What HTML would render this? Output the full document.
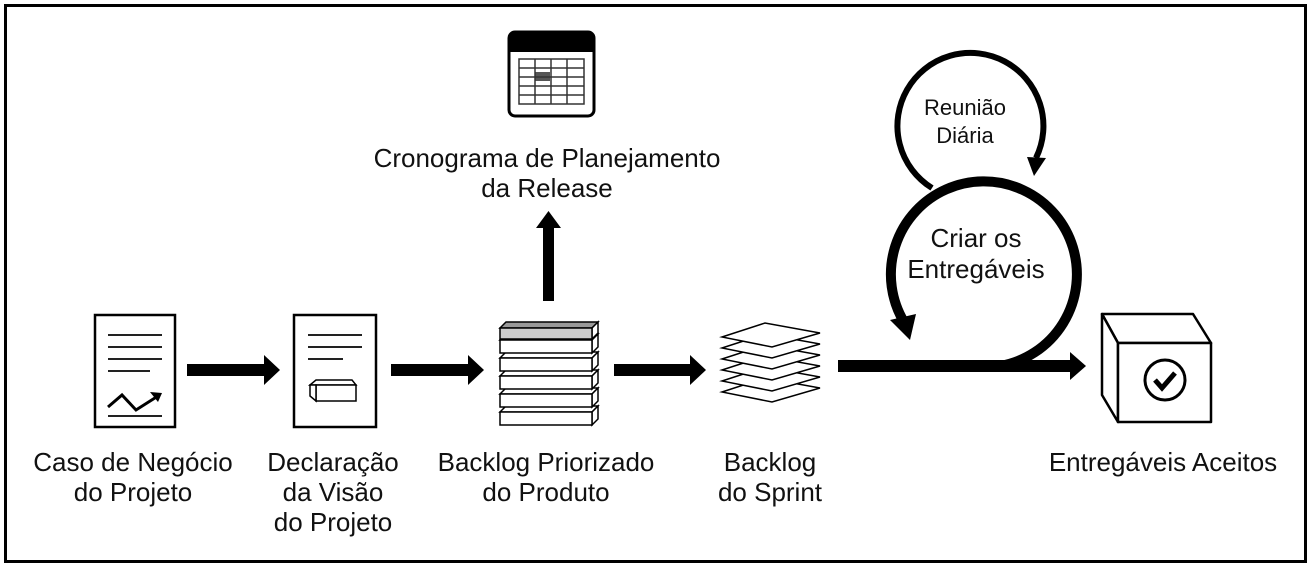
<!DOCTYPE html>
<html><head><meta charset="utf-8"><style>
html,body{margin:0;padding:0;background:#fff;}
svg{display:block;}
text{font-family:"Liberation Sans",Arial,sans-serif;fill:#111;}
</style></head><body>
<svg width="1311" height="567" viewBox="0 0 1311 567" xmlns="http://www.w3.org/2000/svg">
<rect x="5.5" y="5.5" width="1300" height="556" fill="#fff" stroke="#000" stroke-width="3"/>

<!-- Doc 1 -->
<rect x="95" y="315" width="80" height="112" fill="#fff" stroke="#000" stroke-width="2.5"/>
<g stroke="#222" stroke-width="2">
<line x1="108" y1="335" x2="162" y2="335"/><line x1="108" y1="347" x2="162" y2="347"/>
<line x1="108" y1="359" x2="162" y2="359"/><line x1="108" y1="371" x2="150" y2="371"/>
<line x1="108" y1="416" x2="162" y2="416"/>
</g>
<polyline points="108,407 122,395 136,410 158,396" fill="none" stroke="#000" stroke-width="3"/>
<polygon points="162,393 150,392 158,402" fill="#000"/>

<!-- Doc 2 -->
<rect x="294" y="315" width="82" height="112" fill="#fff" stroke="#000" stroke-width="2.5"/>
<g stroke="#222" stroke-width="2">
<line x1="308" y1="335" x2="362" y2="335"/><line x1="308" y1="347" x2="362" y2="347"/>
<line x1="308" y1="359" x2="343" y2="359"/>
</g>
<g fill="#fff" stroke="#000" stroke-width="1.5">
<polygon points="310,385 316,380 352,380 356,385"/>
<rect x="316" y="385" width="40" height="16"/>
<polygon points="310,385 316,385 316,401 310,396"/>
</g>

<!-- Arrows -->
<g fill="#000">
<rect x="187" y="364" width="80" height="12"/><polygon points="264,355 280,370 264,385"/>
<rect x="391" y="364" width="80" height="12"/><polygon points="468,355 484,370 468,385"/>
<rect x="614" y="364" width="80" height="12"/><polygon points="690,355 706,370 690,385"/>
<rect x="543" y="225" width="11" height="76"/><polygon points="536,228 548.5,211 561,228"/>
<rect x="838" y="360" width="236" height="12"/><polygon points="1070,352 1086,366 1070,380"/>
</g>

<!-- Backlog stack -->
<g stroke="#000" stroke-width="1.5">
<g fill="#fff">
<polygon points="500,412 506,406 598,406 592,412"/><polygon points="592,412 598,406 598,419 592,425"/><rect x="500" y="412" width="92" height="13"/>
<polygon points="500,394 506,388 598,388 592,394"/><polygon points="592,394 598,388 598,401 592,407"/><rect x="500" y="394" width="92" height="13"/>
<polygon points="500,376 506,370 598,370 592,376"/><polygon points="592,376 598,370 598,383 592,389"/><rect x="500" y="376" width="92" height="13"/>
<polygon points="500,358 506,352 598,352 592,358"/><polygon points="592,358 598,352 598,365 592,371"/><rect x="500" y="358" width="92" height="13"/>
<polygon points="500,340 506,334 598,334 592,340"/><polygon points="592,340 598,334 598,347 592,353"/><rect x="500" y="340" width="92" height="13"/>
</g>
<polygon points="500,328 506,322 598,322 592,328" fill="#999"/><polygon points="592,328 598,322 598,333 592,339" fill="#fff"/><rect x="500" y="328" width="92" height="11" fill="#ccc"/>
</g>

<!-- Sprint backlog -->
<g fill="#fff" stroke="#000" stroke-width="1.5">
<polygon points="722,392 765,378 820,388 772,402"/>
<polygon points="722,381 765,367 820,377 772,391"/>
<polygon points="722,370 765,356 820,366 772,380"/>
<polygon points="722,359 765,345 820,355 772,369"/>
<polygon points="722,348 765,334 820,344 772,358"/>
<polygon points="722,337 765,323 820,333 772,347"/>
</g>

<!-- Calendar -->
<rect x="509" y="32" width="85" height="84" rx="6" fill="#fff" stroke="#000" stroke-width="3"/>
<path d="M509,52 V38 a6,6 0 0 1 6,-6 H588 a6,6 0 0 1 6,6 V52 Z" fill="#000"/>
<rect x="535" y="72" width="15" height="9" fill="#555"/>
<g stroke="#333" stroke-width="1.5" fill="none">
<rect x="519" y="59" width="65" height="45"/>
<line x1="535" y1="59" x2="535" y2="104"/><line x1="551" y1="59" x2="551" y2="104"/><line x1="567" y1="59" x2="567" y2="104"/>
<line x1="519" y1="68" x2="584" y2="68"/><line x1="519" y1="77" x2="584" y2="77"/><line x1="519" y1="86" x2="584" y2="86"/><line x1="519" y1="95" x2="584" y2="95"/>
</g>

<!-- Small loop -->
<path d="M1036,158 A73,73 0 1 0 932,188" fill="none" stroke="#000" stroke-width="6"/>
<polygon points="1027,157 1046,158 1034,176" fill="#000"/>
<!-- Big loop -->
<path d="M1000,366 A93,93 0 1 0 904,322" fill="none" stroke="#000" stroke-width="10"/>
<polygon points="890,320 916,314 910,340" fill="#000"/>

<!-- Box -->
<g fill="#fff" stroke="#000" stroke-width="2.5" stroke-linejoin="round">
<polygon points="1102,314 1193,314 1211,343 1118,343"/>
<polygon points="1102,314 1118,343 1118,422 1102,395"/>
<rect x="1118" y="343" width="93" height="79"/>
</g>
<circle cx="1165" cy="380" r="20" fill="#fff" stroke="#000" stroke-width="3"/>
<polyline points="1155,380 1162,388 1175,373" fill="none" stroke="#000" stroke-width="5"/>

<!-- Labels -->
<g font-size="26" text-anchor="middle">
<text x="133" y="471">Caso de Negócio</text><text x="133" y="501">do Projeto</text>
<text x="333" y="471">Declaração</text><text x="333" y="501">da Visão</text><text x="333" y="531">do Projeto</text>
<text x="546" y="471">Backlog Priorizado</text><text x="546" y="501">do Produto</text>
<text x="770" y="471">Backlog</text><text x="770" y="501">do Sprint</text>
<text x="1163" y="471">Entregáveis Aceitos</text>
<text x="547" y="167">Cronograma de Planejamento</text><text x="547" y="197">da Release</text>
<text x="976" y="247">Criar os</text><text x="976" y="278">Entregáveis</text>
</g>
<g font-size="22" text-anchor="middle">
<text x="965" y="115">Reunião</text><text x="965" y="143">Diária</text>
</g>
</svg>
</body></html>
